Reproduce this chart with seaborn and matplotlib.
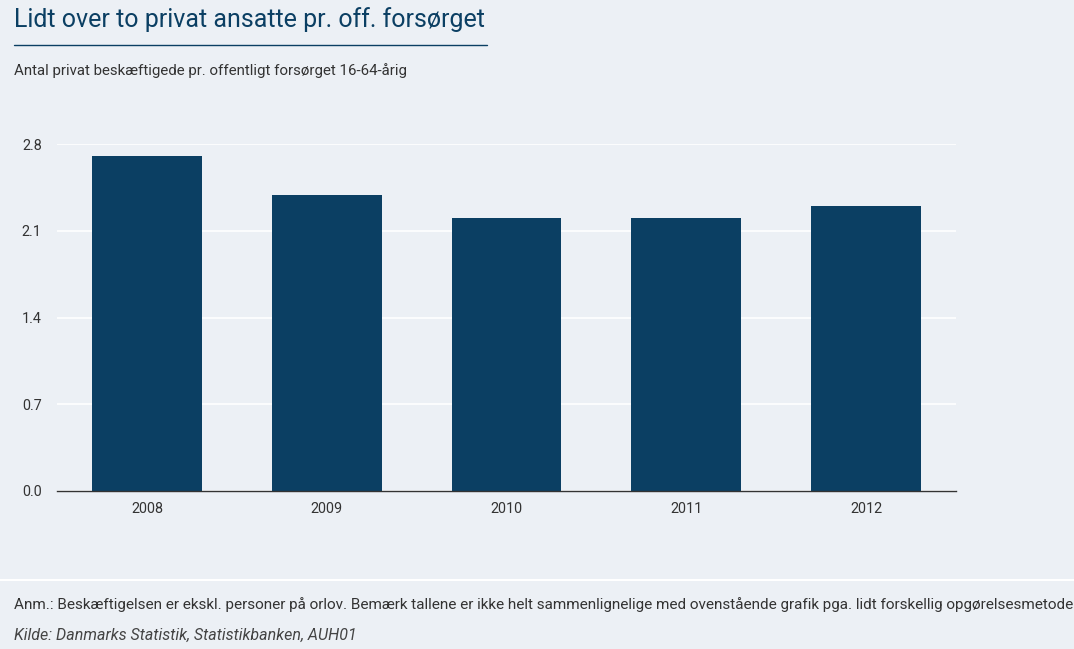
import matplotlib
matplotlib.use("Agg")
import matplotlib.pyplot as plt
import seaborn as sns
import pandas as pd
from matplotlib.lines import Line2D

years = ["2008", "2009", "2010", "2011", "2012"]
values = [2.7, 2.39, 2.2, 2.2, 2.3]
yticks = [0.0, 0.7, 1.4, 2.1, 2.8]

BG = "#ECF0F5"
BAR = "#0B3F63"

sns.set_theme(style="white")
plt.rcParams["font.family"] = ["Roboto", "DejaVu Sans"]

df = pd.DataFrame({"year": years, "value": values})

fig = plt.figure(figsize=(10.74, 6.49), dpi=100, facecolor=BG)
ax = fig.add_axes([57/1074, 1-491/649, (956-57)/1074, (491-144)/649])
ax.set_facecolor(BG)

sns.barplot(data=df, x="year", y="value", color=BAR, width=0.61, ax=ax,
            saturation=1, zorder=3, linewidth=0, edgecolor=BAR)

ax.set_ylim(0, 2.8)
ax.set_xlim(-0.5, 4.5)
ax.set_yticks(yticks)
ax.set_yticklabels([f"{t:.1f}" for t in yticks])
ax.yaxis.grid(True, color="white", linewidth=1.2, zorder=0)
ax.set_axisbelow(True)
for s in ["top", "right", "left"]:
    ax.spines[s].set_visible(False)
ax.spines["bottom"].set_color("#333333")
ax.spines["bottom"].set_linewidth(1)
ax.spines["bottom"].set_zorder(4)
ax.tick_params(axis="both", length=0, labelsize=10.4, labelcolor="#333333")
ax.tick_params(axis="x", pad=8)
ax.tick_params(axis="y", pad=11)
ax.set_xlabel("")
ax.set_ylabel("")

fig.text(14/1074, 1-20/649, "Lidt over to privat ansatte pr. off. forsørget",
         fontsize=18, color=BAR, va="center", ha="left")
fig.add_artist(Line2D([14/1074, 487/1074], [1-45/649, 1-45/649],
                      color=BAR, linewidth=1, transform=fig.transFigure))
fig.text(14/1074, 1-71/649, "Antal privat beskæftigede pr. offentligt forsørget 16-64-årig",
         fontsize=10.8, color="#333333", va="center", ha="left")

fig.add_artist(Line2D([0, 1], [1-580/649, 1-580/649],
                      color="white", linewidth=1.5, transform=fig.transFigure))

fig.text(14/1074, 1-605/649,
         "Anm.: Beskæftigelsen er ekskl. personer på orlov. Bemærk tallene er ikke helt sammenlignelige med ovenstående grafik pga. lidt forskellig opgørelsesmetode",
         fontsize=10.97, color="#333333", va="center", ha="left")
fig.text(14/1074, 1-635/649, "Kilde: Danmarks Statistik, Statistikbanken, AUH01",
         fontsize=11.5, color="#444444", va="center", ha="left", style="italic")

fig.savefig("out.png", dpi=100, facecolor=BG)
